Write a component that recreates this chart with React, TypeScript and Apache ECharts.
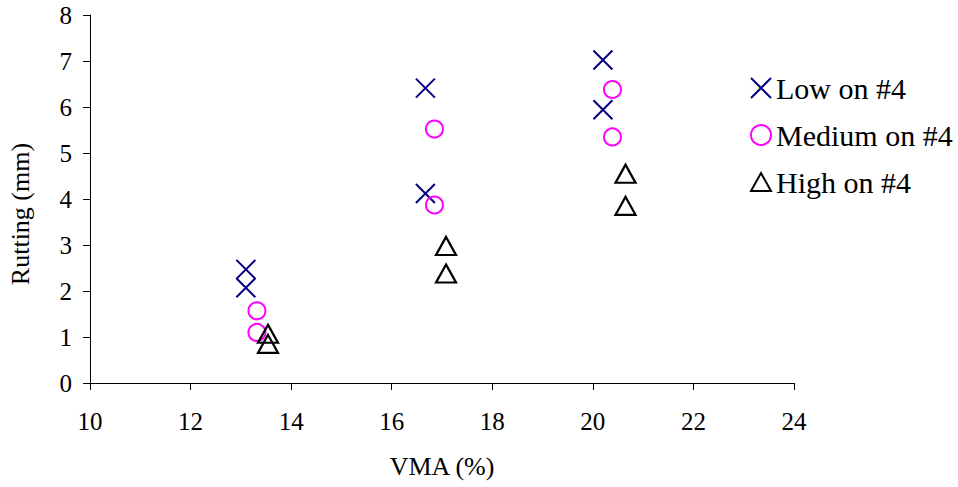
import React, { useEffect, useRef } from "react";
import * as echarts from "echarts";

const lowOn4: [number, number][] = [
  [13.1, 2.47], [13.1, 2.07], [16.67, 6.41], [16.67, 4.12], [20.2, 7.02], [20.2, 5.94],
];
const mediumOn4: [number, number][] = [
  [13.32, 1.57], [13.32, 1.1], [16.85, 5.52], [16.85, 3.87], [20.39, 6.38], [20.39, 5.35],
];
const highOn4: [number, number][] = [
  [13.54, 1.07], [13.54, 0.85], [17.08, 2.98], [17.08, 2.38], [20.65, 4.55], [20.65, 3.85],
];
const seriesNames = ["Low on #4", "Medium on #4", "High on #4"];
const xTitle = "VMA (%)";
const yTitle = "Rutting (mm)";

const FONT = "'Liberation Serif', 'Times New Roman', Times, serif";

export default function App() {
  const ref = useRef<HTMLDivElement>(null);
  useEffect(() => {
    if (!ref.current) return;
    const chart = echarts.init(ref.current, null, { renderer: "svg" });
    const xSym = "path://M0,0L10,10M10,0L0,10";
    const triSym = "path://M5,0L10,9L0,9Z";
    chart.setOption({
      animation: false,
      backgroundColor: "#ffffff",
      grid: { left: 90, right: 164, top: 15, bottom: 104 },
      legend: {
        orient: "vertical",
        left: 745,
        top: 68,
        itemWidth: 20,
        itemHeight: 20,
        itemGap: 17,
        textStyle: { fontFamily: FONT, fontSize: 30, color: "#000" },
        data: seriesNames,
      },
      graphic: [
        {
          type: "text",
          x: 20,
          y: 214,
          rotation: Math.PI / 2,
          style: {
            text: yTitle,
            fontFamily: FONT,
            fontSize: 26,
            fill: "#000",
            textAlign: "center",
            textVerticalAlign: "middle",
          },
        },
      ],
      xAxis: {
        type: "value",
        min: 10,
        max: 24,
        interval: 2,
        name: xTitle,
        nameLocation: "middle",
        nameGap: 70,
        nameTextStyle: { fontFamily: FONT, fontSize: 26, color: "#000" },
        axisLine: { show: true, onZero: false, lineStyle: { color: "#000", width: 1 } },
        axisTick: { show: true, inside: false, length: 7, lineStyle: { color: "#000" } },
        axisLabel: { fontFamily: FONT, fontSize: 25, color: "#000", margin: 26 },
        splitLine: { show: false },
      },
      yAxis: {
        type: "value",
        min: 0,
        max: 8,
        interval: 1,
        axisLine: { show: true, lineStyle: { color: "#000", width: 1 } },
        axisTick: { show: true, inside: false, length: 7, lineStyle: { color: "#000" } },
        axisLabel: { fontFamily: FONT, fontSize: 25, color: "#000", margin: 18 },
        splitLine: { show: false },
      },
      series: [
        {
          name: seriesNames[0],
          type: "scatter",
          data: lowOn4,
          symbol: xSym,
          symbolSize: 19,
          itemStyle: { color: "rgba(0,0,0,0)", borderColor: "#000080", borderWidth: 2, opacity: 1 },
        },
        {
          name: seriesNames[1],
          type: "scatter",
          data: mediumOn4,
          symbol: "circle",
          symbolSize: 17,
          itemStyle: { color: "rgba(0,0,0,0)", borderColor: "#ff00ff", borderWidth: 2, opacity: 1 },
        },
        {
          name: seriesNames[2],
          type: "scatter",
          data: highOn4,
          symbol: triSym,
          symbolSize: [20, 18],
          itemStyle: { color: "rgba(0,0,0,0)", borderColor: "#000000", borderWidth: 2.2, opacity: 1 },
        },
      ],
    });
    return () => chart.dispose();
  }, []);
  return (
    <div
      ref={ref}
      style={{ position: "absolute", left: 0, top: 0, width: 958, height: 487 }}
    />
  );
}
